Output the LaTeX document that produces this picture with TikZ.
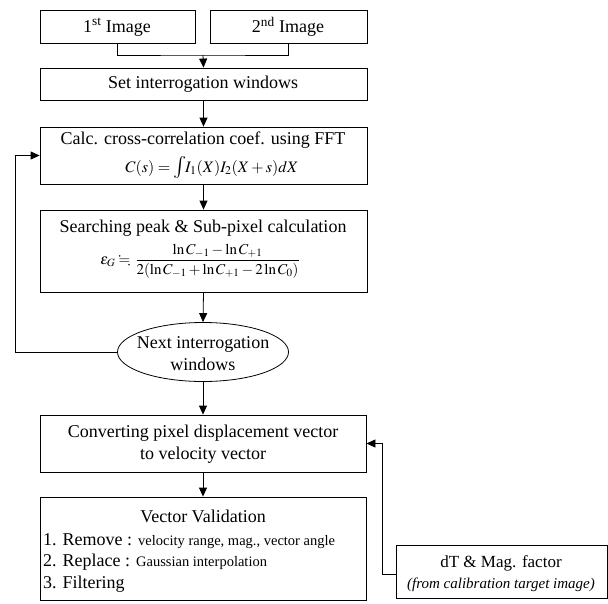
\documentclass[tikz,border=0pt]{standalone}
\usepackage{amsmath}
\usepackage{amssymb}
\usepackage{mathptmx}
\usepackage[no-math]{fontspec}
\setmainfont{Liberation Serif}
\usetikzlibrary{shapes.geometric,arrows.meta}
\newcommand{\bigtxt}{\fontsize{18}{22}\selectfont}
\newcommand{\smltxt}{\fontsize{14.5}{17}\selectfont}
\tikzset{
  box/.style={draw, line width=0.8pt, inner sep=0pt, anchor=center},
  txt/.style={inner sep=0pt, anchor=center, align=center, font=\bigtxt},
  arr/.style={-{Triangle[length=9pt,width=8pt]}, line width=0.8pt},
  ln/.style={line width=0.8pt}
}
\begin{document}
\begin{tikzpicture}[x=1pt,y=-1pt]
\useasboundingbox (0,0) rectangle (608,603);
% boxes
\node[box, minimum width=155pt, minimum height=33pt] (img1) at (117.5,26.5) {};
\node[box, minimum width=157pt, minimum height=33pt] (img2) at (288.5,26.5) {};
\node[box, minimum width=327pt, minimum height=32pt] (set) at (203.5,84) {};
\node[box, minimum width=327pt, minimum height=57pt] (calc) at (203.5,155.5) {};
\node[box, minimum width=327pt, minimum height=82pt] (search) at (203.5,251) {};
\node[box, ellipse, minimum width=171pt, minimum height=59pt] (next) at (203,352) {};
\node[box, minimum width=326pt, minimum height=57pt] (conv) at (203,443.5) {};
\node[box, minimum width=326pt, minimum height=103pt] (valid) at (203,548.5) {};
\node[box, minimum width=211pt, minimum height=53pt] (dt) at (501.5,571.5) {};
% texts
\node[txt] (t1) at (117,27) {1\textsuperscript{st} Image};
\node[txt] (t2) at (288,27) {2\textsuperscript{nd} Image};
\node[txt] (t3) at (203,84) {Set interrogation windows};
\node[txt] (t4) at (203,140) {Calc. cross-correlation coef. using FFT};
\node[txt, font=\fontsize{16}{19}\selectfont] (t5) at (212,167) {$C(s)={}${\fontsize{22}{22}\selectfont$\int$}$\!I_1(X)I_2(X+s)dX$};
\node[txt] (t6) at (203,228) {Searching peak \& Sub-pixel calculation};
\node[txt, font=\fontsize{15}{18}\selectfont] (t7) at (200,261) {$\varepsilon_G \fallingdotseq\, \dfrac{\ln C_{-1}-\ln C_{+1}}{2(\ln C_{-1}+\ln C_{+1}-2\ln C_0)}$};
\node[txt] (t8) at (203,354) {Next interrogation\\windows};
\node[txt] (t9) at (203,444) {Converting pixel displacement vector\\to velocity vector};
\node[txt] (t10) at (203,516) {Vector Validation};
\node[txt, anchor=west] (t11) at (43,541) {1. Remove : {\smltxt velocity range, mag., vector angle}};
\node[txt, anchor=west] (t12) at (43,562) {2. Replace : {\smltxt Gaussian interpolation}};
\node[txt, anchor=west] (t13) at (43,584) {3. Filtering};
\node[txt, font=\fontsize{17}{20}\selectfont] (t14) at (501,563) {dT \& Mag. factor};
\node[txt, font=\fontsize{15}{18}\selectfont\itshape] (t15) at (501,585) {(from calibration target image)};
% connectors
\coordinate (join) at (203,55);
\draw[ln] (img1.south) |- (join) -| (img2.south);
\draw[arr] (join) -- (set.north);
\draw[arr] (set.south) -- (calc.north);
\draw[arr] (calc.south) -- (search.north);
\draw[arr] (search.south) -- (next.north);
\coordinate (lp) at (15,352);
\draw[arr] (next.west) -- (lp) |- (calc.west);
\draw[arr] (next.south) -- (conv.north);
\draw[arr] (conv.south) -- (valid.north);
\coordinate (rp) at (382,574);
\draw[arr] (dt.west |- rp) -- (rp) |- (conv.east);
\end{tikzpicture}
\end{document}
